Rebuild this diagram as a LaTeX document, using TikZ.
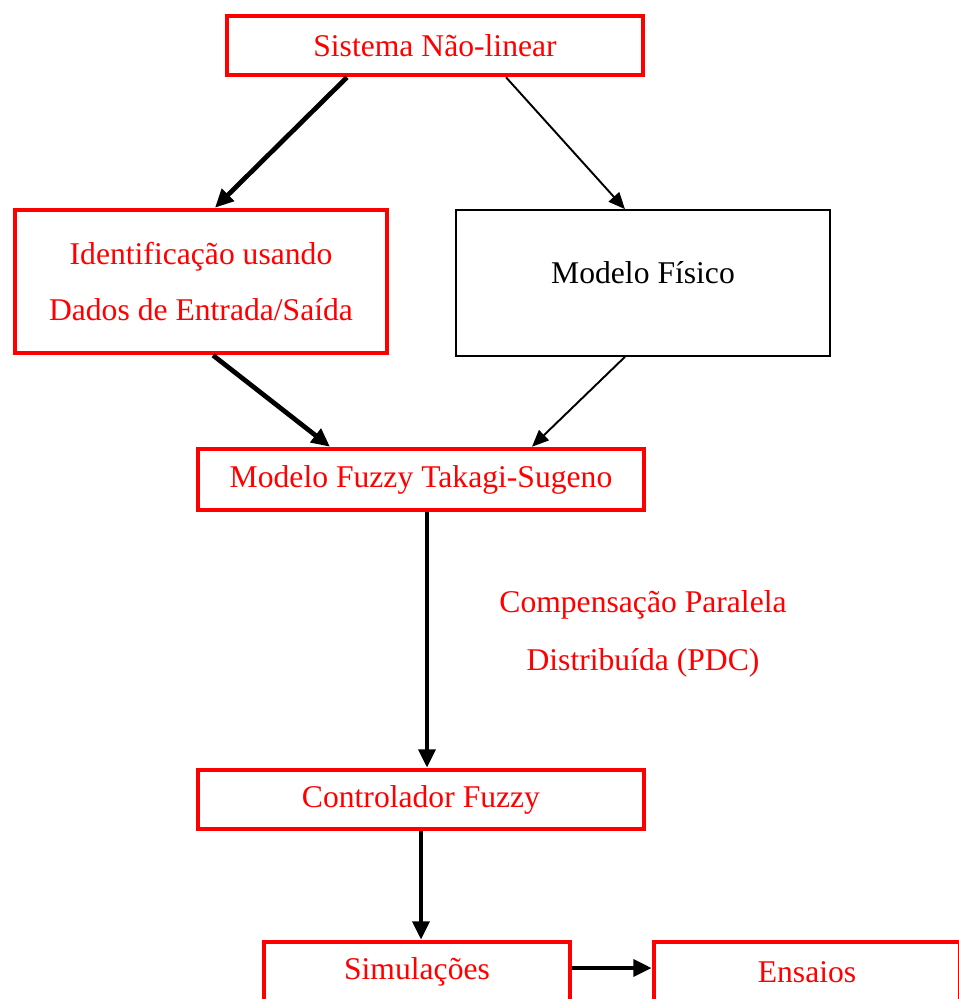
\documentclass[tikz,border=0pt]{standalone}
\usepackage{fontspec}
\setmainfont{Liberation Serif}
\usepackage{xcolor}
\usepackage{tikz}
\usetikzlibrary{positioning, calc, arrows.meta}
\definecolor{boxred}{HTML}{FF0000}
\begin{document}
\begin{tikzpicture}[
  rbx/.style={draw=boxred, line width=2.6pt, text=boxred, inner sep=0pt,
              font=\fontsize{18}{31.5}\selectfont, align=center},
  kbx/.style={draw=black, line width=0.9pt, inner sep=0pt,
              font=\fontsize{18}{31.5}\selectfont, align=center},
  thk/.style={-{Triangle[length=10.5pt,width=9.5pt]}, line width=2.7pt},
  thn/.style={-{Triangle[length=9.5pt,width=8pt]}, line width=1.1pt}
]
  \useasboundingbox (0,0) rectangle (19.18,-19.98);

  \node[rbx, minimum width=8.32cm, minimum height=1.18cm] (sis) at (8.70,-0.91) {Sistema Não-linear};
  \node[rbx, minimum width=7.44cm, minimum height=2.86cm] (ident) at (4.02,-5.63) {Identificação usando\\Dados de Entrada/Saída};
  \node[kbx, minimum width=7.48cm, minimum height=2.92cm, text depth=0.4cm] (fis) at (12.86,-5.66) {Modelo Físico};
  \node[rbx, minimum width=8.92cm, minimum height=1.22cm] (mfts) at (8.42,-9.59) {Modelo Fuzzy Takagi-Sugeno};
  \node[rbx, minimum width=8.92cm, minimum height=1.18cm] (ctrl) at (8.42,-15.99) {Controlador Fuzzy};
  \node[rbx, minimum width=6.12cm, minimum height=1.2cm] (sim) at (8.34,-19.44) {Simulações};
  \node[rbx, minimum width=6.12cm, minimum height=1.2cm] (ens) at (16.14,-19.44) {Ensaios};

  \node[text=boxred, font=\fontsize{18}{33}\selectfont, align=center] (pdc) at (12.86,-12.67) {Compensação Paralela\\Distribuída (PDC)};

  \draw[thk] ([xshift=-1.76cm]sis.south) -- ([xshift=0.28cm]ident.north);
  \draw[thn] ([xshift=1.42cm]sis.south) -- ([xshift=-0.36cm]fis.north);
  \draw[thk] ([xshift=0.24cm]ident.south) -- ([xshift=-1.82cm]mfts.north);
  \draw[thn] ([xshift=-0.36cm]fis.south) -- ([xshift=2.22cm]mfts.north);
  \draw[thk] ([xshift=0.12cm]mfts.south) -- ([xshift=0.12cm]ctrl.north);
  \draw[thk] (ctrl.south) -- (ctrl.south |- sim.north);
  \draw[thk] ([yshift=0.08cm]sim.east) -- ([yshift=0.08cm]ens.west);
\end{tikzpicture}
\end{document}
